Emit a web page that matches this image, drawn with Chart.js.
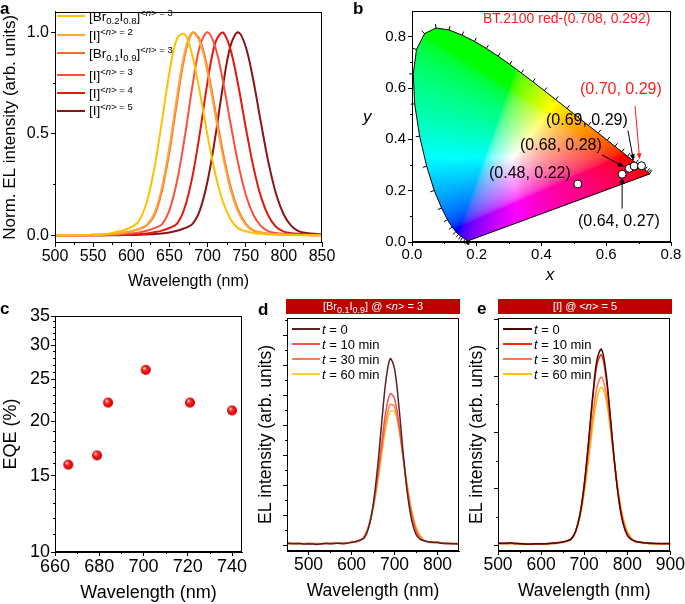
<!DOCTYPE html>
<html>
<head>
<meta charset="utf-8">
<title>EL spectra, CIE coordinates, EQE and stability</title>
<script src="https://cdn.jsdelivr.net/npm/chart.js@4.4.1/dist/chart.umd.min.js"></script>
<style>
  html, body { margin: 0; padding: 0; background: #fff; }
  #fig { position: relative; width: 685px; height: 604px; overflow: hidden;
         font-family: "Liberation Sans", Arial, Helvetica, sans-serif; color: #000; }
  #fig canvas { position: absolute; left: 0; top: 0; }
  .txt { position: absolute; white-space: nowrap; line-height: 1; }
  .panel { font-weight: bold; font-size: 17px; }
  .sw { position: absolute; height: 0; border-top: 2px solid; }
  .bar { position: absolute; background: #c00000; color: #fff; font-size: 11px;
         line-height: 15px; text-align: center; }
  sub, sup { font-size: 9px; line-height: 0; }
  sub { vertical-align: -3px; }
  sup { vertical-align: 5px; }
  #legA sup, #legA sub { font-size: 9.5px; }
</style>
</head>
<body>
<div id="fig">
  <canvas id="chartA" width="685" height="604"></canvas>
  <canvas id="chartB" width="685" height="604"></canvas>
  <canvas id="chartC" width="685" height="604"></canvas>
  <canvas id="chartD" width="685" height="604"></canvas>
  <canvas id="chartE" width="685" height="604"></canvas>

  <div class="txt panel" style="left:0;top:0">a</div>
  <div class="txt panel" style="left:353px;top:0">b</div>
  <div class="txt panel" style="left:0;top:300px">c</div>
  <div class="txt panel" style="left:258px;top:301px">d</div>
  <div class="txt panel" style="left:477px;top:300px">e</div>

  <!-- panel b labels -->
  <div class="txt" style="left:550px;top:266px;font-size:17px;font-style:italic;transform:translateX(-50%)">x</div>
  <div class="txt" style="left:363px;top:108px;font-size:17px;font-style:italic">y</div>
  <div class="txt" style="left:483px;top:11px;font-size:14px;color:#ff1a1a">BT.2100 red-(0.708, 0.292)</div>
  <div class="txt" style="left:580px;top:81px;font-size:16px;color:#ff1a1a">(0.70, 0.29)</div>
  <div class="txt" style="left:546px;top:112px;font-size:16px">(0.69, 0.29)</div>
  <div class="txt" style="left:520px;top:137px;font-size:16px">(0.68, 0.28)</div>
  <div class="txt" style="left:489px;top:165px;font-size:16px">(0.48, 0.22)</div>
  <div class="txt" style="left:578px;top:213px;font-size:16px">(0.64, 0.27)</div>

  <div class="bar" style="left:286px;top:299px;width:174px;height:15px">[Br<sub>0.1</sub>I<sub>0.9</sub>] @ &lt;<i>n</i>&gt; = 3</div>
  <div class="bar" style="left:498px;top:299px;width:174px;height:15px">[I] @ &lt;<i>n</i>&gt; = 5</div>

  <div id="legA"></div>
  <div id="legD"></div>
  <div id="legE"></div>
</div>

<script>
// ---------------- data ----------------
// a: normalised EL spectra
const wlA = [500,510,520,530,540,550,560,570,580,590,600,610,620,630,640,650,660,670,
             680,690,700,710,720,730,740,750,760,770,780,790,800,810,820,830,840,850];
const elBr02I08n3 = [0,0,0,0.001,0.001,0.002,0.004,0.008,0.016,0.025,0.040,0.070,0.160,0.325,0.556,0.801,0.969,0.990,
                     0.886,0.701,0.491,0.304,0.166,0.080,0.034,0.020,0.011,0.007,0.004,0.003,0.002,0.001,0.001,0,0,0];
const elIn2 = [0,0,0,0,0.001,0.002,0.003,0.005,0.008,0.013,0.020,0.032,0.050,0.105,0.232,0.434,0.682,0.900,
               0.999,0.951,0.801,0.596,0.392,0.228,0.117,0.053,0.022,0.013,0.008,0.005,0.003,0.002,0.001,0.001,0,0];
const elBr01I09n3 = [0,0,0,0,0.001,0.002,0.003,0.005,0.008,0.012,0.019,0.030,0.048,0.096,0.216,0.411,0.657,0.882,
                     0.997,0.961,0.819,0.617,0.411,0.242,0.126,0.058,0.024,0.014,0.008,0.005,0.003,0.002,0.001,0.001,0,0];
const elIn3 = [0,0,0,0,0,0.001,0.001,0.002,0.003,0.006,0.009,0.014,0.022,0.035,0.054,0.124,0.267,0.482,
               0.731,0.932,0.999,0.928,0.762,0.553,0.355,0.201,0.101,0.045,0.019,0.011,0.007,0.005,0.003,0.002,0.001,0.001];
const elIn4 = [0,0,0,0,0,0,0,0.001,0.001,0.002,0.004,0.006,0.009,0.015,0.023,0.036,0.057,0.135,
               0.286,0.506,0.755,0.946,0.998,0.915,0.742,0.532,0.338,0.189,0.094,0.041,0.018,0.010,0.007,0.005,0.003,0.002];
const elIn5 = [0,0,0,0,0,0,0,0,0,0.001,0.001,0.002,0.004,0.006,0.009,0.014,0.022,0.035,
               0.055,0.124,0.267,0.482,0.731,0.932,0.999,0.928,0.762,0.553,0.355,0.201,0.101,0.045,0.019,0.011,0.007,0.005];
const legendA = [
  '[Br<sub>0.2</sub>I<sub>0.8</sub>]<sup>&lt;<i>n</i>&gt; = 3</sup>',
  '[I]<sup>&lt;<i>n</i>&gt; = 2</sup>',
  '[Br<sub>0.1</sub>I<sub>0.9</sub>]<sup>&lt;<i>n</i>&gt; = 3</sup>',
  '[I]<sup>&lt;<i>n</i>&gt; = 3</sup>',
  '[I]<sup>&lt;<i>n</i>&gt; = 4</sup>',
  '[I]<sup>&lt;<i>n</i>&gt; = 5</sup>'
];
const ticksAx = [500, 550, 600, 650, 700, 750, 800, 850];
const ticksAy = [0, 0.5, 1.0];

// b: CIE 1931 spectral locus and device coordinates
const locusX = [0.1741,0.1738,0.1733,0.1726,0.1714,0.1689,0.1644,0.1566,0.1510,0.1440,0.1355,0.1241,0.1096,0.0913,
                0.0687,0.0454,0.0235,0.0082,0.0039,0.0139,0.0389,0.0743,0.1142,0.1547,0.1929,0.2296,0.2658,0.3016,
                0.3373,0.3731,0.4087,0.4441,0.4788,0.5125,0.5448,0.5752,0.6029,0.6270,0.6482,0.6658,0.6801,0.6915,
                0.7079,0.7190,0.7260,0.7300,0.7334,0.7347];
const locusY = [0.0050,0.0049,0.0048,0.0048,0.0051,0.0069,0.0109,0.0177,0.0227,0.0297,0.0399,0.0578,0.0868,0.1327,
                0.2007,0.2950,0.4127,0.5384,0.6548,0.7502,0.8120,0.8338,0.8262,0.8059,0.7816,0.7543,0.7243,0.6923,
                0.6589,0.6245,0.5896,0.5547,0.5202,0.4866,0.4544,0.4242,0.3965,0.3725,0.3514,0.3340,0.3197,0.3083,
                0.2920,0.2809,0.2740,0.2700,0.2666,0.2653];
const deviceX = [0.512, 0.649, 0.671, 0.686, 0.709];
const deviceY = [0.226, 0.264, 0.287, 0.296, 0.297];
const ticksB = [0, 0.2, 0.4, 0.6, 0.8];
const arrowsB = [
  {from: [0.689, 0.530], to: [0.703, 0.322], color: '#ff1a1a'},
  {from: [0.667, 0.434], to: [0.684, 0.318], color: '#000'},
  {from: [0.587, 0.339], to: [0.655, 0.293], color: '#000'},
  {from: [0.649, 0.130], to: [0.649, 0.252], color: '#000'}
];

// c: EQE vs peak wavelength
const eqeWavelength = [666, 679, 684, 701, 721, 740];
const eqeValue = [15.9, 16.7, 22.1, 26.3, 22.1, 21.2];
const ticksCx = [660, 680, 700, 720, 740];
const eqeTicks = [10, 15, 20, 25, 30, 35];

// d: [Br0.1I0.9] <n>=3 operation
const wlD = [450,460,470,480,490,500,510,520,530,540,550,560,570,580,590,600,610,620,630,640,650,
             660,670,680,690,700,710,720,730,740,750,760,770,780,790,800,810,820,830,840,850];
const dT0 = [0.06,0.05,0.04,0.05,0.03,0.04,0.03,0.02,0.04,0.05,0.04,0.05,0.06,0.05,0.06,0.09,0.12,0.17,0.24,0.58,1.30,
             2.50,4.04,5.48,6.21,5.88,4.66,3.09,1.72,0.82,0.35,0.19,0.14,0.11,0.09,0.08,0.06,0.05,0.05,0.04,0.04];
const dT10 = [0.05,0.04,0.06,0.05,0.04,0.03,0.05,0.03,0.04,0.06,0.05,0.07,0.05,0.04,0.07,0.09,0.11,0.15,0.29,0.63,1.26,
              2.22,3.39,4.46,5.04,4.88,4.07,2.91,1.80,0.97,0.46,0.22,0.13,0.10,0.08,0.10,0.07,0.05,0.04,0.05,0.04];
const dT30 = [0.04,0.06,0.05,0.04,0.05,0.06,0.04,0.05,0.03,0.05,0.06,0.05,0.07,0.05,0.06,0.08,0.11,0.15,0.30,0.64,1.23,
              2.11,3.16,4.12,4.68,4.61,3.95,2.94,1.91,1.09,0.55,0.26,0.14,0.10,0.08,0.09,0.06,0.05,0.06,0.04,0.05];
const dT60 = [0.07,0.06,0.05,0.06,0.04,0.05,0.06,0.04,0.05,0.06,0.05,0.07,0.06,0.05,0.06,0.08,0.10,0.15,0.30,0.61,1.17,
              1.98,2.97,3.89,4.45,4.45,3.89,2.97,1.98,1.17,0.61,0.30,0.15,0.10,0.08,0.07,0.06,0.07,0.05,0.06,0.05];
const ticksDx = [500, 600, 700, 800];
const ticksDy = [0, 1, 2, 3, 4, 5, 6, 7];

// e: [I] <n>=5 operation
const wlE = [500,510,520,530,540,550,560,570,580,590,600,610,620,630,640,650,660,670,680,690,700,
             710,720,730,740,750,760,770,780,790,800,810,820,830,840,850,860,870,880,890,900];
const eT0 = [0.07,0.06,0.07,0.08,0.06,0.05,0.04,0.03,0.04,0.05,0.04,0.05,0.06,0.07,0.09,0.11,0.15,0.22,0.47,1.07,2.13,
             3.65,5.33,6.61,6.95,6.19,4.67,3.00,1.64,0.78,0.35,0.19,0.13,0.10,0.08,0.07,0.06,0.06,0.05,0.06,0.05];
const eT10 = [0.06,0.07,0.06,0.07,0.05,0.06,0.05,0.04,0.03,0.04,0.05,0.04,0.06,0.07,0.08,0.11,0.15,0.22,0.49,1.08,2.13,
              3.60,5.21,6.43,6.75,6.03,4.58,2.97,1.65,0.80,0.36,0.19,0.13,0.10,0.08,0.06,0.07,0.05,0.06,0.05,0.06];
const eT30 = [0.05,0.06,0.05,0.06,0.07,0.05,0.04,0.05,0.03,0.04,0.03,0.05,0.06,0.05,0.07,0.10,0.14,0.23,0.50,1.05,1.97,
              3.22,4.58,5.62,5.96,5.45,4.32,2.95,1.76,0.91,0.43,0.21,0.12,0.10,0.07,0.06,0.05,0.06,0.05,0.04,0.05];
const eT60 = [0.06,0.05,0.04,0.05,0.04,0.03,0.02,0.03,0.02,0.03,0.04,0.03,0.05,0.06,0.07,0.09,0.13,0.22,0.48,0.99,1.83,
              2.97,4.22,5.22,5.60,5.22,4.22,2.97,1.83,0.99,0.48,0.24,0.12,0.09,0.07,0.05,0.04,0.05,0.04,0.03,0.04];
const ticksEx = [500, 600, 700, 800, 900];
const ticksEy = [0, 2, 4, 6, 8];
const timeLabels = ['0', '10 min', '30 min', '60 min'];

// ---------------- styling ----------------
const colorsA = ['#ffc000', '#ffa33a', '#ff6a22', '#ff4f3c', '#e4180c', '#8b1515'];
const colorsD = ['#5a2323', '#f4524a', '#ff813f', '#ffcb35'];
const colorsE = ['#4b0a0a', '#f52a0a', '#ff7a45', '#ffc000'];

Chart.defaults.font.family = '"Liberation Sans", Arial, Helvetica, sans-serif';
Chart.defaults.color = '#000';
Chart.defaults.animation = false;

const PW = 685, PH = 604;
function pad(f, yw, xh) {
  return {left: f.l - yw, top: f.t, right: PW - f.r, bottom: PH - f.b - xh};
}

function axis(pos, min, max, tickVals, size, fmt, fit, title, tsize, tickPad) {
  return {
    type: 'linear', position: pos, min: min, max: max,
    afterBuildTicks: s => { s.ticks = tickVals.map(v => ({value: v})); },
    afterFit: s => { if (pos === 'left') s.width = fit; else s.height = fit; },
    grid: {drawOnChartArea: false, tickLength: 4, tickColor: '#000', tickWidth: 1},
    border: {color: '#000', width: 1},
    ticks: {autoSkip: false, maxRotation: 0, padding: tickPad, color: '#000', font: {size: size}, callback: fmt},
    title: {display: !!title, text: title || '', color: '#000', font: {size: tsize}, padding: 0}
  };
}

// box frame + minor ticks
const framePlugin = {
  id: 'frame',
  afterDraw(chart, args, opts) {
    const {ctx, chartArea: a, scales} = chart;
    ctx.save();
    ctx.strokeStyle = '#000';
    ctx.lineWidth = 1;
    const l = Math.round(a.left) + 0.5, t = Math.round(a.top) + 0.5;
    const r = Math.round(a.right) - 0.5, b = Math.round(a.bottom) - 0.5;
    ctx.strokeRect(l, t, r - l, b - t);
    ctx.beginPath();
    (opts.xMinor || []).forEach(v => {
      const p = Math.round(scales.x.getPixelForValue(v)) + 0.5;
      ctx.moveTo(p, b); ctx.lineTo(p, b + 2.5);
    });
    (opts.yMinor || []).forEach(v => {
      const p = Math.round(scales.y.getPixelForValue(v)) + 0.5;
      ctx.moveTo(l, p); ctx.lineTo(l - 2.5, p);
    });
    ctx.stroke();
    ctx.restore();
  }
};

// chromaticity colour field, locus ticks and arrows
const ciePlugin = {
  id: 'cie',
  beforeDatasetsDraw(chart, args, opts) {
    if (!opts.locusX) return;
    const {ctx, chartArea: a, scales: {x, y}} = chart;
    const px = opts.locusX.map(v => x.getPixelForValue(v));
    const py = opts.locusY.map(v => y.getPixelForValue(v));
    const w = Math.ceil(a.right - a.left), h = Math.ceil(a.bottom - a.top);
    const off = document.createElement('canvas');
    off.width = w; off.height = h;
    const octx = off.getContext('2d');
    const img = octx.createImageData(w, h);
    const d = img.data;
    const gam = c => c <= 0.0031308 ? 12.92 * c : 1.055 * Math.pow(c, 1 / 2.4) - 0.055;
    for (let j = 0; j < h; j++) {
      const cy = y.getValueForPixel(a.top + j + 0.5);
      if (cy <= 0.0005) continue;
      for (let i = 0; i < w; i++) {
        const cx = x.getValueForPixel(a.left + i + 0.5);
        const X = cx / cy, Z = (1 - cx - cy) / cy;
        let r = Math.max(3.2406 * X - 1.5372 - 0.4986 * Z, 0);
        let g = Math.max(-0.9689 * X + 1.8758 + 0.0415 * Z, 0);
        let b = Math.max(0.0557 * X - 0.2040 + 1.0570 * Z, 0);
        const m = Math.max(r, g, b) || 1;
        const k = (j * w + i) * 4;
        d[k] = 255 * gam(r / m); d[k + 1] = 255 * gam(g / m); d[k + 2] = 255 * gam(b / m); d[k + 3] = 255;
      }
    }
    octx.putImageData(img, 0, 0);
    ctx.save();
    ctx.beginPath();
    px.forEach((p, i) => i ? ctx.lineTo(p, py[i]) : ctx.moveTo(p, py[i]));
    ctx.closePath();
    ctx.clip();
    ctx.drawImage(off, a.left, a.top);
    ctx.restore();

    // small wavelength ticks on the locus, pointing outwards
    const wx = x.getPixelForValue(0.333), wy = y.getPixelForValue(0.333);
    ctx.save();
    ctx.strokeStyle = '#000';
    ctx.lineWidth = 1;
    ctx.beginPath();
    for (let i = 1; i < px.length - 1; i++) {
      const tx = px[i + 1] - px[i - 1], ty = py[i + 1] - py[i - 1];
      const len = Math.hypot(tx, ty) || 1;
      let nx = ty / len, ny = -tx / len;
      if ((px[i] - wx) * nx + (py[i] - wy) * ny < 0) { nx = -nx; ny = -ny; }
      ctx.moveTo(px[i], py[i]);
      ctx.lineTo(px[i] + nx * 4, py[i] + ny * 4);
    }
    ctx.stroke();

    // annotation arrows
    (opts.arrows || []).forEach(ar => {
      const x1 = x.getPixelForValue(ar.from[0]), y1 = y.getPixelForValue(ar.from[1]);
      const x2 = x.getPixelForValue(ar.to[0]), y2 = y.getPixelForValue(ar.to[1]);
      const ang = Math.atan2(y2 - y1, x2 - x1);
      ctx.strokeStyle = ar.color;
      ctx.fillStyle = ar.color;
      ctx.beginPath();
      ctx.moveTo(x1, y1);
      ctx.lineTo(x2 - Math.cos(ang) * 4, y2 - Math.sin(ang) * 4);
      ctx.stroke();
      ctx.beginPath();
      ctx.moveTo(x2, y2);
      ctx.lineTo(x2 - 6 * Math.cos(ang) + 2.5 * Math.sin(ang), y2 - 6 * Math.sin(ang) - 2.5 * Math.cos(ang));
      ctx.lineTo(x2 - 6 * Math.cos(ang) - 2.5 * Math.sin(ang), y2 - 6 * Math.sin(ang) + 2.5 * Math.cos(ang));
      ctx.closePath();
      ctx.fill();
    });
    ctx.restore();
  }
};

Chart.register(framePlugin, ciePlugin);

function xy(xs, ys) { return xs.map((v, i) => ({x: v, y: ys[i]})); }
const noPlugins = {legend: {display: false}, tooltip: {enabled: false}};

// ---------------- panel a ----------------
const frameA = {l: 55, t: 6, r: 322, b: 243};
const seriesA = [elBr02I08n3, elIn2, elBr01I09n3, elIn3, elIn4, elIn5];
new Chart(document.getElementById('chartA'), {
  type: 'line',
  data: {datasets: seriesA.map((s, i) => ({
    data: xy(wlA, s), borderColor: colorsA[i], borderWidth: 2, pointRadius: 0, tension: 0.35, fill: false
  }))},
  options: {
    responsive: false,
    layout: {autoPadding: false, padding: pad(frameA, 55, 48)},
    plugins: Object.assign({frame: {xMinor: [525, 575, 625, 675, 725, 775, 825], yMinor: [0.25, 0.75]}}, noPlugins),
    scales: {
      x: axis('bottom', 500, 850, ticksAx, 16, v => String(v), 48, 'Wavelength (nm)', 16, 0),
      y: axis('left', -0.038, 1.101, ticksAy, 16, v => v.toFixed(1), 55, 'Norm. EL intensity (arb. units)', 17, 2)
    }
  }
});

// ---------------- panel b ----------------
const frameB = {l: 412, t: 5, r: 671, b: 242};
const closedX = locusX.concat([locusX[0]]), closedY = locusY.concat([locusY[0]]);
new Chart(document.getElementById('chartB'), {
  type: 'scatter',
  data: {datasets: [
    {data: xy(deviceX, deviceY), pointRadius: 4, pointBackgroundColor: '#fff', pointBorderColor: '#000', pointBorderWidth: 1},
    {data: xy(closedX, closedY), showLine: true, borderColor: '#000', borderWidth: 1, pointRadius: 0, tension: 0}
  ]},
  options: {
    responsive: false,
    layout: {autoPadding: false, padding: pad(frameB, 40, 30)},
    plugins: Object.assign({
      frame: {xMinor: [0.1, 0.3, 0.5, 0.7], yMinor: [0.1, 0.3, 0.5, 0.7]},
      cie: {locusX: locusX, locusY: locusY, arrows: arrowsB}
    }, noPlugins),
    scales: {
      x: axis('bottom', 0, 0.8, ticksB, 15, v => v.toFixed(1), 30, '', 15, 0),
      y: axis('left', 0, 0.9, ticksB, 15, v => v.toFixed(1), 40, '', 15, 2)
    }
  }
});

// ---------------- panel c ----------------
function sphere(r) {
  const c = document.createElement('canvas');
  const s = 2 * r + 2;
  c.width = c.height = s;
  const g = c.getContext('2d');
  const grad = g.createRadialGradient(s / 2 - r * 0.35, s / 2 - r * 0.4, r * 0.05, s / 2, s / 2, r);
  grad.addColorStop(0, '#ffffff');
  grad.addColorStop(0.3, '#ff3a3a');
  grad.addColorStop(0.8, '#e60000');
  grad.addColorStop(1, '#a80000');
  g.fillStyle = grad;
  g.beginPath(); g.arc(s / 2, s / 2, r, 0, Math.PI * 2); g.fill();
  return c;
}
const frameC = {l: 55, t: 316, r: 242, b: 552};
const yC = axis('left', 10, 35, eqeTicks, 18, v => String(v), 55, 'EQE (%)', 18, 1);
yC.type = 'logarithmic';
const logMinor = [];
for (let v = 11; v < 35; v++) if (v % 5) logMinor.push(v);
new Chart(document.getElementById('chartC'), {
  type: 'scatter',
  data: {datasets: [{data: xy(eqeWavelength, eqeValue), pointStyle: sphere(5), pointRadius: 5}]},
  options: {
    responsive: false,
    layout: {autoPadding: false, padding: pad(frameC, 55, 52)},
    plugins: Object.assign({frame: {xMinor: [670, 690, 710, 730], yMinor: logMinor}}, noPlugins),
    scales: {
      x: axis('bottom', 660, 744.5, ticksCx, 18, v => String(v), 52, 'Wavelength (nm)', 18, 0),
      y: yC
    }
  }
});

// ---------------- panels d, e ----------------
function stability(id, frame, wl, series, colors, xMin, xMax, xTicks, yMin, yMax, yTicks, xMinor, yMinor) {
  new Chart(document.getElementById(id), {
    type: 'line',
    data: {datasets: series.map((s, i) => ({
      data: xy(wl, s), borderColor: colors[i], borderWidth: 1.5, pointRadius: 0, tension: 0.35, fill: false
    }))},
    options: {
      responsive: false,
      layout: {autoPadding: false, padding: pad(frame, 31, 51)},
      plugins: Object.assign({frame: {xMinor: xMinor, yMinor: yMinor}}, noPlugins),
      scales: {
        x: axis('bottom', xMin, xMax, xTicks, 17.5, v => String(v), 51, 'Wavelength (nm)', 17.5, 0),
        y: axis('left', yMin, yMax, yTicks, 17.5, () => '', 31, 'EL intensity (arb. units)', 17.5, 0)
      }
    }
  });
}
stability('chartD', {l: 287, t: 318, r: 459, b: 551}, wlD, [dT0, dT10, dT30, dT60], colorsD,
          450, 850, ticksDx, -0.2, 7.57, ticksDy, [550, 650, 750], [0.5, 1.5, 2.5, 3.5, 4.5, 5.5, 6.5, 7.5]);
stability('chartE', {l: 498, t: 318, r: 671, b: 551}, wlE, [eT0, eT10, eT30, eT60], colorsE,
          500, 900, ticksEx, -0.21, 8.06, ticksEy, [550, 650, 750, 850], [1, 3, 5, 7]);

// ---------------- html legends ----------------
function legend(el, names, colors, x0, x1, tx, ys, size) {
  const host = document.getElementById(el);
  names.forEach((n, i) => {
    const sw = document.createElement('div');
    sw.className = 'sw';
    sw.style.cssText = `left:${x0}px;width:${x1 - x0}px;top:${ys[i] - 1}px;border-top-color:${colors[i]}`;
    host.appendChild(sw);
    const t = document.createElement('div');
    t.className = 'txt';
    t.style.cssText = `left:${tx}px;top:${ys[i] + 4.5 - 11}px;font-size:${size}px`;
    t.innerHTML = n;
    host.appendChild(t);
  });
}
legend('legA', legendA, colorsA, 57, 85, 89, [16, 35, 53, 75, 93, 110.5], 13.5);
const timeNames = timeLabels.map(t => '<i>t</i> = ' + t);
legend('legD', timeNames, colorsD, 292, 320, 322, [329, 344, 359, 374], 13);
legend('legE', timeNames, colorsE, 503, 532, 534, [329, 344, 359, 374], 13);
</script>
</body>
</html>
